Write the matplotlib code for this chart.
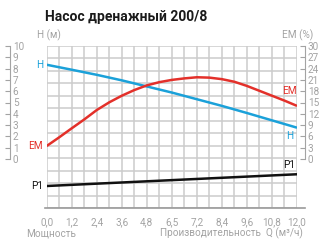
import numpy as np
import matplotlib.pyplot as plt

plt.rcParams['font.family'] = ['Roboto', 'DejaVu Sans']

# flow Q (m3/h) and curves
q_h = [0.0, 1.2, 2.4, 3.6, 4.8, 6.0, 7.2, 8.4, 9.6, 10.8, 12.0]
head = [8.34, 7.90, 7.45, 6.96, 6.42, 5.88, 5.29, 4.70, 4.07, 3.42, 2.77]
q_em = [0.0, 0.6, 1.2, 1.8, 2.4, 3.0, 3.6, 4.2, 4.8, 5.4, 6.0,
        6.6, 7.2, 7.8, 8.4, 9.0, 9.6, 10.2, 10.8, 11.4, 12.0]
eff = [3.45, 5.76, 8.15, 10.5, 13.0, 15.05, 16.8, 18.3, 19.55, 20.4, 21.0,
       21.4, 21.7, 21.6, 21.2, 20.5, 19.4, 18.1, 16.8, 15.5, 14.1]
# P1 has no scale, given here in head-axis units
p1_q = [0.0, 6.0, 12.0]
p1 = [-2.39, -1.87, -1.35]

x_labels = ['0,0', '1,2', '2,4', '3,6', '4,8', '6,5', '7,2', '8,4', '9,6', '10,8', '12,0']
h_ticks = list(range(0, 11))
em_ticks = list(range(0, 31, 3))

grey = '#a3a3a3'
blue = '#1ba1d9'
red = '#e3302a'
black = '#111111'

W, H = 327, 240
fig = plt.figure(figsize=(W / 100, H / 100), dpi=100)

ymin = (159 - 208.3) / 11.3
ax = fig.add_axes([46.7 / W, 1 - 208.3 / H, 250.3 / W, 162.3 / H])
ax.set_xlim(0, 12)
ax.set_ylim(ymin, 10)
ax.set_xticks(np.arange(0, 12.01, 1.2))
ax.set_xticklabels(x_labels)
ax.set_xticks(np.arange(0, 12.01, 0.6), minor=True)
ax.set_yticks(np.linspace(ymin, 10, 14))
ax.set_yticklabels([])
ax.grid(True, which='both', color='#cccccc', lw=1.1)
ax.set_axisbelow(True)
ax.tick_params(which='both', length=0)
ax.tick_params(axis='x', labelsize=7.2, labelcolor=grey, pad=6.5)
for s in ['top', 'right', 'left']:
    ax.spines[s].set_visible(False)
ax.spines['bottom'].set_color('#9a9a9a')
ax.spines['bottom'].set_linewidth(1.2)
ax.spines['bottom'].set_bounds(-0.1, 12.4)

ax.plot(q_h, head, color=blue, lw=1.8, solid_capstyle='butt')
ax.plot(q_em, np.array(eff) / 3, color=red, lw=1.8, solid_capstyle='butt')
ax.plot(p1_q, p1, color=black, lw=1.8, solid_capstyle='butt')

lab = dict(fontsize=7.2, textcoords='offset points', va='center', annotation_clip=False)
ax.annotate('H', xy=(0, head[0]), xytext=(-2.5, 0), ha='right', color=blue, **lab)
ax.annotate('EM', xy=(0, eff[0] / 3), xytext=(-2.5, 0), ha='right', color=red, **lab)
ax.annotate('P1', xy=(0, p1[0]), xytext=(-2.5, 0), ha='right', color=black, **lab)
ax.annotate('H', xy=(12, head[-1]), xytext=(-3, -6.3), ha='right', color=blue, **lab)
ax.annotate('EM', xy=(12, eff[-1] / 3), xytext=(0, 10.8), ha='right', color=red, **lab)
ax.annotate('P1', xy=(12, p1[-1]), xytext=(-1.5, 6.7), ha='right', color=black, **lab)


def scale_axis(x_px, ticks):
    sa = fig.add_axes([x_px / W - 0.001, 1 - 159 / H, 0.001, 113 / H])
    sa.set_ylim(ticks[0], ticks[-1])
    sa.set_yticks(ticks)
    sa.yaxis.tick_right()
    sa.set_xticks([])
    sa.tick_params(axis='y', direction='in', length=3.5, width=0.8, color=grey,
                   labelsize=7.2, labelcolor=grey, pad=2)
    for s in ['top', 'bottom', 'left']:
        sa.spines[s].set_visible(False)
    sa.spines['right'].set_color(grey)
    sa.spines['right'].set_linewidth(0.8)
    sa.patch.set_visible(False)
    return sa


scale_axis(10, h_ticks)
scale_axis(305, em_ticks)

fig.text(48.5 / W, 1 - 35 / H, 'H (м)', ha='center', va='center', fontsize=7.2, color=grey)
fig.text(298 / W, 1 - 35 / H, 'EM (%)', ha='center', va='center', fontsize=7.2, color=grey)
fig.text(45 / W, 1 - 21 / H, 'Насос дренажный 200/8', ha='left', va='baseline',
         fontsize=10, fontweight='bold', color='#1a1a1a')
fig.text(26 / W, 1 - 236 / H, 'Мощность', ha='left', va='baseline', fontsize=7.2, color=grey)
fig.text(303 / W, 1 - 236 / H, 'Производительность  Q (м³/ч)', ha='right', va='baseline',
         fontsize=7.2, color=grey)

fig.savefig('out.png', dpi=100)
